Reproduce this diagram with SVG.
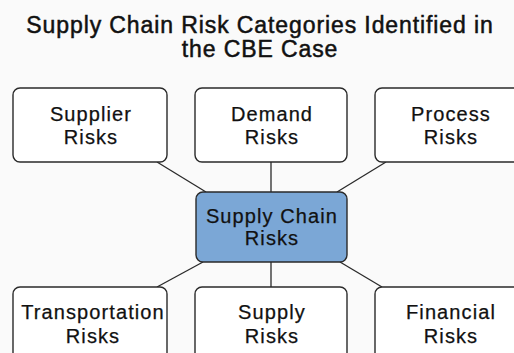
<svg xmlns="http://www.w3.org/2000/svg" width="514" height="353" viewBox="0 0 514 353">
  <style>
    .box { fill: #ffffff; stroke: #2a2a2a; stroke-width: 1.4; }
    .hub { fill: #7ba7d6; stroke: #2a2a2a; stroke-width: 1.4; }
    .lbl { font-family: "Liberation Sans", Arial, sans-serif; font-size: 20px; fill: #111; text-anchor: middle; letter-spacing: 1.1px; stroke: #111; stroke-width: 0.25; }
    .title { font-family: "Liberation Sans", Arial, sans-serif; font-size: 23px; fill: #111; text-anchor: middle; letter-spacing: 0.9px; stroke: #111; stroke-width: 0.5; }
    .link { stroke: #2a2a2a; stroke-width: 1.3; fill: none; }
  </style>
  <rect width="514" height="353" fill="#fafafa"/>

  <g id="title">
    <text class="title" x="260" y="33">Supply Chain Risk Categories Identified in</text>
    <text class="title" x="260" y="57">the CBE Case</text>
  </g>

  <g id="connectors">
    <line class="link" x1="157" y1="162" x2="206" y2="192"/>
    <line class="link" x1="271" y1="162" x2="271" y2="192"/>
    <line class="link" x1="386" y1="162" x2="337" y2="192"/>
    <line class="link" x1="157" y1="287" x2="203" y2="262"/>
    <line class="link" x1="271" y1="262" x2="271" y2="287"/>
    <line class="link" x1="340" y1="262" x2="382" y2="287"/>
  </g>

  <g id="supplier">
    <rect class="box" x="13" y="88" width="154" height="74" rx="7"/>
    <text class="lbl" x="91" y="121">Supplier</text>
    <text class="lbl" x="91" y="144">Risks</text>
  </g>
  <g id="demand">
    <rect class="box" x="195" y="88" width="152" height="74" rx="7"/>
    <text class="lbl" x="272" y="121">Demand</text>
    <text class="lbl" x="272" y="144">Risks</text>
  </g>
  <g id="process">
    <rect class="box" x="375" y="88" width="154" height="74" rx="7"/>
    <text class="lbl" x="451" y="121">Process</text>
    <text class="lbl" x="451" y="144">Risks</text>
  </g>

  <g id="supply-chain">
    <rect class="hub" x="196" y="192" width="151" height="70" rx="7"/>
    <text class="lbl" x="272" y="223">Supply Chain</text>
    <text class="lbl" x="272" y="245">Risks</text>
  </g>

  <g id="transportation">
    <rect class="box" x="13" y="287" width="154" height="80" rx="7"/>
    <text class="lbl" x="93" y="319">Transportation</text>
    <text class="lbl" x="93" y="343">Risks</text>
  </g>
  <g id="supply">
    <rect class="box" x="195" y="287" width="152" height="80" rx="7"/>
    <text class="lbl" x="272" y="319">Supply</text>
    <text class="lbl" x="272" y="343">Risks</text>
  </g>
  <g id="financial">
    <rect class="box" x="375" y="287" width="154" height="80" rx="7"/>
    <text class="lbl" x="451" y="319">Financial</text>
    <text class="lbl" x="451" y="343">Risks</text>
  </g>
</svg>
